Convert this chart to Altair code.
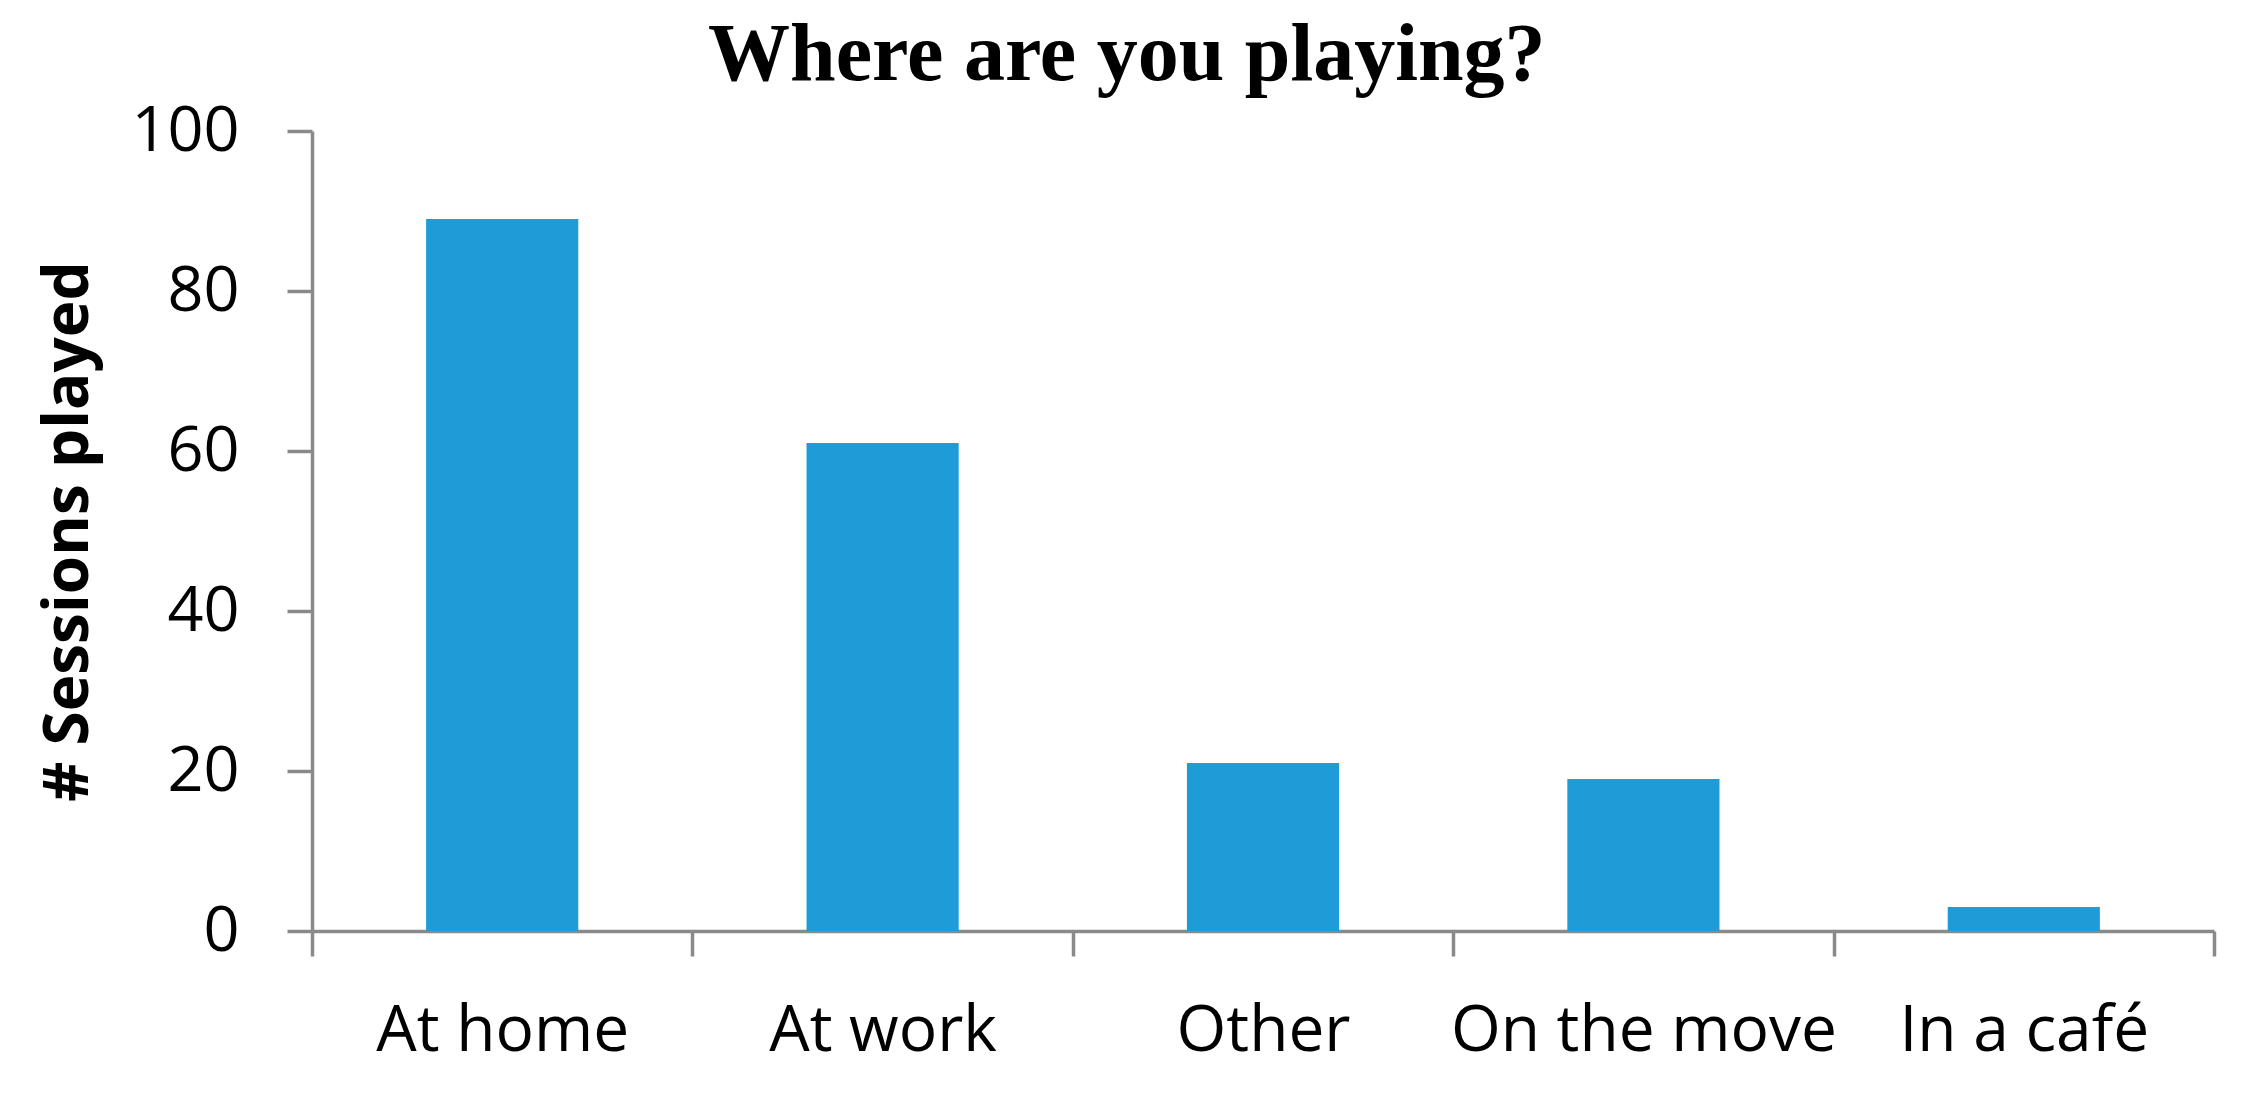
import altair as alt
import pandas as pd

categories = ["At home", "At work", "Other", "On the move", "In a café"]
sessions = [89, 61, 21, 19, 3]
y_ticks = [0, 20, 40, 60, 80, 100]

df = pd.DataFrame({"location": categories, "sessions": sessions})

axis_color = "#8A8A8A"
label_font = "Open Sans"

chart = alt.Chart(df).mark_bar(
    color="#1E9CD8", width=alt.RelativeBandSize(0.4)
).encode(
    x=alt.X(
        "location:N",
        sort=categories,
        title=None,
        scale=alt.Scale(paddingInner=0, paddingOuter=0),
        axis=alt.Axis(
            labelAngle=0,
            tickBand="extent",
            tickSize=25,
            tickWidth=3.5,
            tickColor=axis_color,
            domainColor=axis_color,
            domainWidth=3.5,
            labelPadding=43,
            labelLimit=0,
            labelFont=label_font,
            labelFontSize=64,
            labelColor="black",
        ),
    ),
    y=alt.Y(
        "sessions:Q",
        title="# Sessions played",
        scale=alt.Scale(domain=[0, 100]),
        axis=alt.Axis(
            values=y_ticks,
            grid=False,
            tickSize=25,
            tickWidth=3.5,
            tickColor=axis_color,
            domainColor=axis_color,
            domainWidth=3.5,
            labelPadding=48,
            labelFont=label_font,
            labelFontSize=63,
            labelColor="black",
            titleFont=label_font,
            titleFontSize=62,
            titleFontWeight="bold",
            titleColor="black",
            titlePadding=30,
        ),
    ),
).properties(
    width=1902,
    height=800,
    title=alt.TitleParams(
        text="Where are you playing?",
        font="Liberation Serif",
        fontSize=82,
        fontWeight="bold",
        color="black",
        anchor="middle",
        frame="bounds",
        offset=3,
    ),
    padding={"left": 304, "top": 123, "right": 30, "bottom": 150},
    autosize="none",
).configure(background="white").configure_view(stroke=None, strokeWidth=0)

chart.save("out.html", embed_options={"renderer": "svg", "actions": False})
